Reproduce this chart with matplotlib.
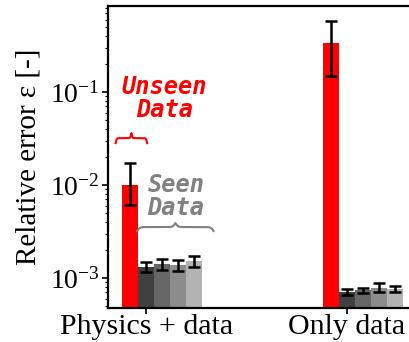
import numpy as np
import matplotlib
matplotlib.use("Agg")
import matplotlib.pyplot as plt

plt.rcParams['font.family'] = 'serif'
plt.rcParams['font.serif'] = ['Liberation Serif', 'DejaVu Serif']
plt.rcParams['mathtext.fontset'] = 'stix'

# data
groups = ["Physics + data", "Only data"]
unseen = [1.0e-2, 0.336]
unseen_lo = [6.1e-3, 0.149]
unseen_hi = [1.72e-2, 0.58]

seen = [[1.31e-3, 1.41e-3, 1.37e-3, 1.52e-3],
        [7.07e-4, 7.43e-4, 7.8e-4, 7.7e-4]]
seen_lo = [[1.16e-3, 1.22e-3, 1.19e-3, 1.31e-3],
           [6.5e-4, 6.9e-4, 7.1e-4, 7.0e-4]]
seen_hi = [[1.48e-3, 1.59e-3, 1.55e-3, 1.71e-3],
           [7.6e-4, 7.9e-4, 8.9e-4, 8.3e-4]]
seen_colors = ['#404040', '#666666', '#8c8c8c', '#b3b3b3']

w = 0.08
x = np.arange(len(groups))

fig = plt.figure(figsize=(4.09, 3.42), dpi=100)
ax = fig.add_axes([108/409, 34/342, 309/409, 302/342])

err_kw = dict(ecolor='black', elinewidth=1.8, capsize=4, capthick=1.8)

u = np.array(unseen)
ax.bar(x - w, u, w, color='#ff0000',
       yerr=[u - np.array(unseen_lo), np.array(unseen_hi) - u], error_kw=err_kw)
for k in range(4):
    s = np.array([seen[g][k] for g in range(2)])
    lo = np.array([seen_lo[g][k] for g in range(2)])
    hi = np.array([seen_hi[g][k] for g in range(2)])
    ax.bar(x + k * w, s, w, color=seen_colors[k], yerr=[s - lo, hi - s], error_kw=err_kw)

ax.set_yscale('log')
ax.set_ylim(4.76e-4, 0.84)
ax.set_xlim(-0.19, 1.35)
ax.set_xticks(x)
ax.set_xticklabels(groups, fontsize=21.5)
ax.tick_params(axis='x', length=4, width=1.2, pad=0)
ax.tick_params(axis='y', which='major', labelsize=20, length=4, width=1.2, pad=2)
ax.tick_params(axis='y', which='minor', length=2.5, width=0.8)
ax.set_ylabel("Relative error ε [-]", fontsize=21, labelpad=6)
for sp in ax.spines.values():
    sp.set_linewidth(1.6)


def brace(x0, x1, y0, h, color):
    half = np.linspace(x0, (x0 + x1) / 2, 151)
    L = half[-1] - half[0]
    beta = 30.0 / L
    yh = 1 / (1 + np.exp(-beta * (half - half[0]))) + 1 / (1 + np.exp(-beta * (half - half[-1])))
    yh = (yh - yh[0]) / (yh[-1] - yh[0]) * h + y0
    xs = np.concatenate((half, x1 - (half[-2::-1] - x0)))
    ys = np.concatenate((yh, yh[-2::-1]))
    ax.plot(xs, ys, color=color, lw=1.5, transform=ax.get_xaxis_transform(), clip_on=False)


brace(x[0] - 1.9 * w, x[0] + 0.06 * w, 0.546, 0.033, '#ff0000')
brace(x[0] - 0.55 * w, x[0] + 4.2 * w, 0.255, 0.026, '#808080')

ax.text(x[0] + 0.092, 0.694, "Unseen\nData", color='#ff0000', fontsize=17,
        fontweight='bold', fontstyle='oblique', family='DejaVu Sans Mono',
        ha='center', va='center', linespacing=0.95, transform=ax.get_xaxis_transform())
ax.text(x[0] + 0.149, 0.369, "Seen\nData", color='#808080', fontsize=17,
        fontweight='bold', fontstyle='oblique', family='DejaVu Sans Mono',
        ha='center', va='center', linespacing=0.95, transform=ax.get_xaxis_transform())

fig.savefig("out.png", dpi=100)
